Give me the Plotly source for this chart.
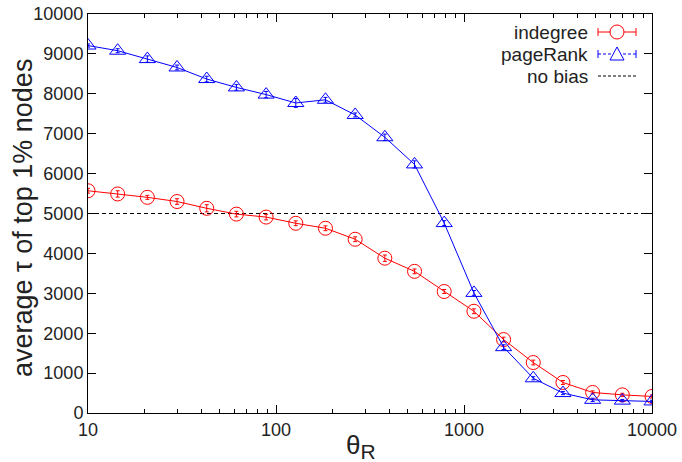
import plotly.graph_objects as go

theta = [10, 14.38, 20.69, 29.76, 42.81, 61.58, 88.59, 127.4, 183.3, 263.7,
         379.3, 545.6, 784.8, 1129, 1624, 2336, 3360, 4833, 6952, 10000]
indegree = [5570, 5490, 5405, 5300, 5130, 4985, 4910, 4755, 4630, 4355,
            3880, 3550, 3045, 2550, 1840, 1265, 765, 515, 455, 415]
indegree_err = [60, 80, 50, 70, 90, 70, 70, 60, 60, 60,
                80, 60, 50, 60, 60, 60, 50, 40, 40, 40]
pagerank = [9210, 9080, 8870, 8660, 8370, 8160, 7980, 7770, 7850, 7470,
            6910, 6230, 4760, 3010, 1650, 870, 500, 330, 310, 290]
pagerank_err = [40, 50, 80, 60, 70, 70, 80, 110, 60, 50,
                80, 90, 60, 60, 60, 40, 40, 40, 30, 30]
nobias_x = [10, 10000]
nobias_y = [5000, 5000]

FONT = "Liberation Sans, Arial, sans-serif"

fig = go.Figure()
fig.add_trace(go.Scatter(
    x=nobias_x, y=nobias_y, mode="lines", name="no bias",
    line=dict(color="black", width=1, dash="4px,3px"), showlegend=False))
fig.add_trace(go.Scatter(
    x=theta, y=indegree, mode="lines+markers", name="indegree",
    line=dict(color="#ff0000", width=1),
    marker=dict(symbol="circle-open", size=14, color="#ff0000", line=dict(width=1)),
    error_y=dict(type="data", array=indegree_err, color="#ff0000", thickness=1, width=2),
    showlegend=False))
fig.add_trace(go.Scatter(
    x=theta, y=pagerank, mode="lines+markers", name="pageRank",
    line=dict(color="#0000ff", width=1),
    marker=dict(symbol="triangle-up-open", size=14, color="#0000ff", line=dict(width=1)),
    error_y=dict(type="data", array=pagerank_err, color="#0000ff", thickness=1, width=2),
    showlegend=False))

W, H = 682, 462
L, R, T, B = 88, 30, 14, 49
pw, ph = W - L - R, H - T - B

def px(xp):
    return (xp - L) / pw

def py(yp):
    return 1 - (yp - T) / ph

# custom legend (gnuplot style: text right, sample left)
legend_rows = [("indegree", "#ff0000", None, "circle"),
               ("pageRank", "#0000ff", "3px,2px", "triangle"),
               ("no bias", "black", "3px,2px", None)]
x_text = 590
x0, x1 = 598, 636
shapes = []
annotations = []

for i, (name, col, dash, sym) in enumerate(legend_rows):
    yp = 32 + i * 22
    annotations.append(dict(x=px(x_text), y=py(yp), xref="paper", yref="paper",
                            text=name, showarrow=False, xanchor="right", yanchor="middle",
                            font=dict(family=FONT, size=19, color="#222")))
    shapes.append(dict(type="line", xref="paper", yref="paper",
                       x0=px(x0), x1=px(x1), y0=py(yp), y1=py(yp),
                       line=dict(color=col, width=1, dash=dash if dash else "solid")))
    if sym is not None:
        shapes.append(dict(type="line", xref="paper", yref="paper", x0=px(x0), x1=px(x0),
                           y0=py(yp - 4), y1=py(yp + 4), line=dict(color=col, width=1)))
        shapes.append(dict(type="line", xref="paper", yref="paper", x0=px(x1), x1=px(x1),
                           y0=py(yp - 4), y1=py(yp + 4), line=dict(color=col, width=1)))
        cx = (x0 + x1) / 2
        if sym == "circle":
            shapes.append(dict(type="circle", xref="paper", yref="paper",
                               x0=px(cx - 7), x1=px(cx + 7), y0=py(yp + 7), y1=py(yp - 7),
                               line=dict(color=col, width=1), fillcolor="white"))
        else:
            path = "M {} {} L {} {} L {} {} Z".format(px(cx - 7), py(yp + 6), px(cx + 7), py(yp + 6),
                                                       px(cx), py(yp - 7))
            shapes.append(dict(type="path", xref="paper", yref="paper", path=path,
                               line=dict(color=col, width=1), fillcolor="white"))

# axis titles as annotations for exact placement
annotations.append(dict(x=px(361), y=py(446), xref="paper", yref="paper",
                        text="θ<sub><span style='font-size:21px'>R</span></sub>",
                        showarrow=False, xanchor="center", yanchor="middle",
                        font=dict(family=FONT, size=26, color="#222")))
annotations.append(dict(x=px(23), y=py(218), xref="paper", yref="paper",
                        text="average τ of top 1% nodes", textangle=-90,
                        showarrow=False, xanchor="center", yanchor="middle",
                        font=dict(family=FONT, size=27, color="#222")))

fig.update_layout(
    width=W, height=H,
    margin=dict(l=L, r=R, t=T, b=B),
    plot_bgcolor="white", paper_bgcolor="white",
    font=dict(family=FONT, size=18, color="#222"),
    shapes=shapes, annotations=annotations,
    xaxis=dict(type="log", range=[1, 4], dtick=1, tickformat="d",
               showline=True, linecolor="black", linewidth=1, mirror="allticks",
               ticks="inside", ticklen=8, tickcolor="black", showgrid=False, zeroline=False,
               minor=dict(ticks="inside", ticklen=4, tickcolor="black", showgrid=False),
               tickfont=dict(size=18), automargin=False),
    yaxis=dict(range=[0, 10000], dtick=1000, tickformat="d",
               showline=True, linecolor="black", linewidth=1, mirror="allticks",
               ticks="inside", ticklen=8, tickcolor="black", showgrid=False, zeroline=False,
               tickfont=dict(size=18), automargin=False),
)

fig.write_html("out.html", config={"displayModeBar": False},
               post_script="document.body.style.margin='0';")
